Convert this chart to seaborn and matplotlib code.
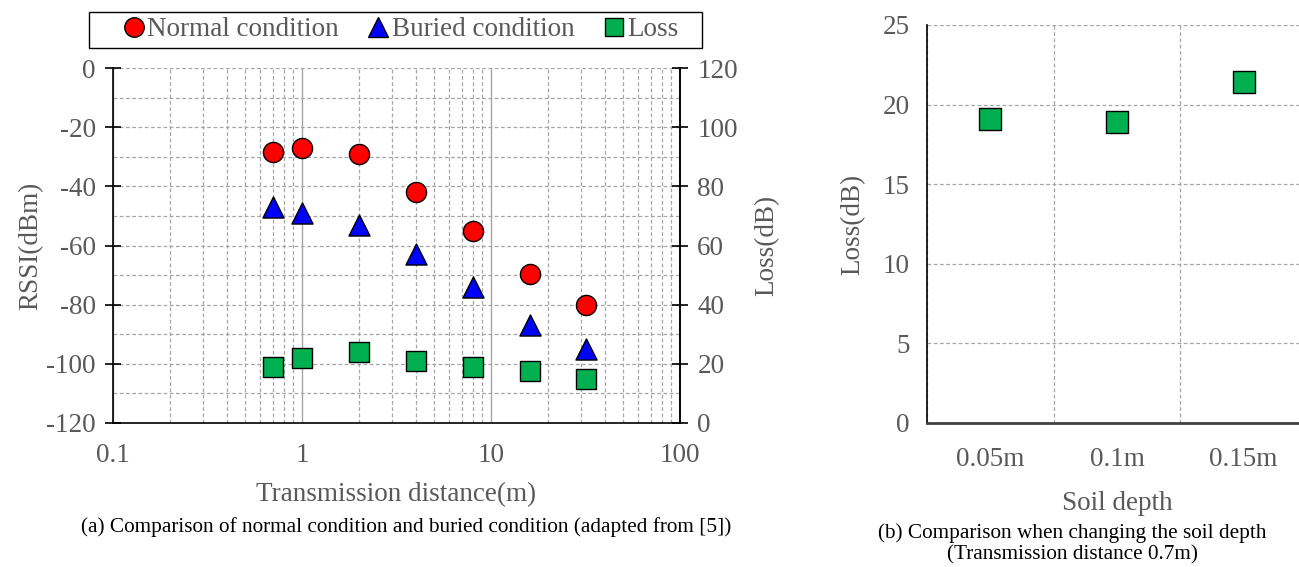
import numpy as np
import pandas as pd
import matplotlib
matplotlib.use("Agg")
import matplotlib.pyplot as plt
from matplotlib.lines import Line2D
from matplotlib.patches import Rectangle
from matplotlib.ticker import LogLocator, MultipleLocator, NullFormatter, FuncFormatter
import seaborn as sns

# ---- data ----
distance = [0.7, 1, 2, 4, 8, 16, 32]
rssi_normal = [-28.5, -27, -29, -42, -55, -69.5, -80]
rssi_buried = [-47, -49, -53, -63, -74, -87, -95]
loss_a = [19, 22, 24, 21, 19, 17.5, 15]

soil_depth = ["0.05m", "0.1m", "0.15m"]
loss_b = [19.1, 18.9, 21.4]

sns.set_theme(style="white")
plt.rcParams["font.family"] = ["Liberation Serif", "DejaVu Serif"]
plt.rcParams["axes.unicode_minus"] = False

TXT = "#595959"
GRID = "#a6a6a6"
FS = 19.5

W, H = 1299, 567
fig = plt.figure(figsize=(W / 100, H / 100), dpi=100)
ax = fig.add_axes([113 / W, 1 - 423 / H, (680 - 113) / W, (423 - 68) / H])

df = pd.DataFrame({"d": distance, "n": rssi_normal, "b": rssi_buried, "l": loss_a})

sns.scatterplot(data=df, x="d", y="n", ax=ax, marker="o", s=210, color="#ff0000",
                edgecolor="black", linewidth=1, zorder=5)
sns.scatterplot(data=df, x="d", y="b", ax=ax, marker="^", s=230, color="#0000ff",
                edgecolor="black", linewidth=1, zorder=5)
ax.set_xscale("log")
ax.set_xlim(0.1, 100)
ax.set_ylim(-120, 0)
ax.yaxis.set_major_locator(MultipleLocator(20))
ax.yaxis.set_minor_locator(MultipleLocator(10))
ax.yaxis.set_major_formatter(FuncFormatter(lambda v, p: f"{int(round(v))}"))
ax.xaxis.set_major_locator(LogLocator(base=10, numticks=10))
ax.xaxis.set_minor_locator(LogLocator(base=10, subs=np.arange(2, 10), numticks=20))
ax.xaxis.set_minor_formatter(NullFormatter())
ax.xaxis.set_major_formatter(FuncFormatter(lambda v, p: f"{v:g}"))
ax.grid(which="major", axis="x", color=GRID, linestyle="-", linewidth=1)
ax.grid(which="minor", axis="x", color=GRID, linestyle=(0, (3, 2)), linewidth=0.9)
ax.grid(which="both", axis="y", color=GRID, linestyle=(0, (3, 2)), linewidth=0.9)
ax.spines["top"].set_visible(False)
for s in ["left", "bottom", "right"]:
    ax.spines[s].set_color("black")
    ax.spines[s].set_linewidth(1.2)
ax.tick_params(axis="both", which="major", direction="inout", length=11, width=1.2,
               colors="black", labelcolor=TXT, labelsize=FS, pad=7)
ax.tick_params(axis="x", which="minor", direction="in", length=3, width=0.8, color="#555555")
ax.tick_params(axis="x", which="major", pad=9)
ax.tick_params(axis="y", which="minor", length=0)
ax.set_xlabel("Transmission distance(m)", fontsize=FS, color=TXT, labelpad=10)
ax.set_ylabel("RSSI(dBm)", fontsize=FS, color=TXT, labelpad=2)

ax2 = ax.twinx()
sns.scatterplot(data=df, x="d", y="l", ax=ax2, marker="s", s=200, color="#00b050",
                edgecolor="black", linewidth=1, zorder=5)
ax2.set_ylim(0, 120)
ax2.yaxis.set_major_locator(MultipleLocator(20))
ax2.set_ylabel("Loss(dB)", fontsize=FS, color=TXT, labelpad=12)
ax2.tick_params(axis="y", which="major", direction="inout", length=11, width=1.2,
                colors="black", labelcolor=TXT, labelsize=FS, pad=7)
for s in ["top", "left", "bottom"]:
    ax2.spines[s].set_visible(False)
ax2.spines["right"].set_color("black")
ax2.spines["right"].set_linewidth(1.2)
ax2.set_xlabel("")

handles = [
    Line2D([], [], marker="o", linestyle="", markersize=14, markerfacecolor="#ff0000", markeredgecolor="black"),
    Line2D([], [], marker="^", linestyle="", markersize=14, markerfacecolor="#0000ff", markeredgecolor="black"),
    Line2D([], [], marker="s", linestyle="", markersize=13, markerfacecolor="#00b050", markeredgecolor="black"),
]
leg = fig.legend(handles, ["Normal condition", "Buried condition", "Loss"], loc="center",
                 bbox_to_anchor=(400 / W, 1 - 30 / H), ncol=3, frameon=False, fontsize=FS,
                 handletextpad=0.05, columnspacing=1.0, borderpad=0.0, handlelength=0.9)
for t in leg.get_texts():
    t.set_color(TXT)
fig.patches.append(Rectangle((89 / W, 1 - 48 / H), (702 - 89) / W, 36 / H,
                             transform=fig.transFigure, fill=False, edgecolor="black",
                             linewidth=1.0))

fig.text(406 / W, 1 - 527 / H, "(a) Comparison of normal condition and buried condition (adapted from [5])",
         ha="center", va="center", fontsize=15.3, color="black")

# ---- right panel ----
bx = fig.add_axes([927 / W, 1 - 423 / H, (1307 - 927) / W, (423 - 25) / H])
dfb = pd.DataFrame({"depth": soil_depth, "loss": loss_b})
sns.scatterplot(data=dfb, x="depth", y="loss", ax=bx, marker="s", s=260, color="#00b050",
                edgecolor="black", linewidth=1, zorder=5)
bx.set_xlim(-0.5, 2.5)
bx.set_ylim(0, 25)
bx.yaxis.set_major_locator(MultipleLocator(5))
bx.set_xticks([0, 1, 2])
bx.set_xticklabels(soil_depth)
bx.set_xticks([-0.5, 0.5, 1.5, 2.5], minor=True)
bx.grid(which="minor", axis="x", color=GRID, linestyle=(0, (3, 2)), linewidth=0.9)
bx.grid(which="major", axis="y", color=GRID, linestyle=(0, (3, 2)), linewidth=0.9)
bx.grid(which="major", axis="x", visible=False)
for s in ["top", "right"]:
    bx.spines[s].set_visible(False)
bx.spines["left"].set_color("black")
bx.spines["left"].set_linewidth(1.2)
bx.spines["bottom"].set_color("#404040")
bx.spines["bottom"].set_linewidth(2)
bx.tick_params(axis="x", which="major", length=0, labelcolor=TXT, labelsize=FS, pad=17)
bx.tick_params(axis="x", which="minor", direction="inout", length=11, width=1.2, color="black")
bx.tick_params(axis="y", which="major", direction="inout", length=11, width=1.2,
               colors="black", labelcolor=TXT, labelsize=FS, pad=7)
bx.set_xlabel("Soil depth", fontsize=FS, color=TXT, labelpad=14)
bx.set_ylabel("Loss(dB)", fontsize=FS, color=TXT, labelpad=12)

fig.text(1072 / W, 1 - 544 / H, "(b) Comparison when changing the soil depth\n(Transmission distance 0.7m)",
         ha="center", va="center", fontsize=15.3, color="black", linespacing=1.12)

fig.savefig("out.png", dpi=100)
